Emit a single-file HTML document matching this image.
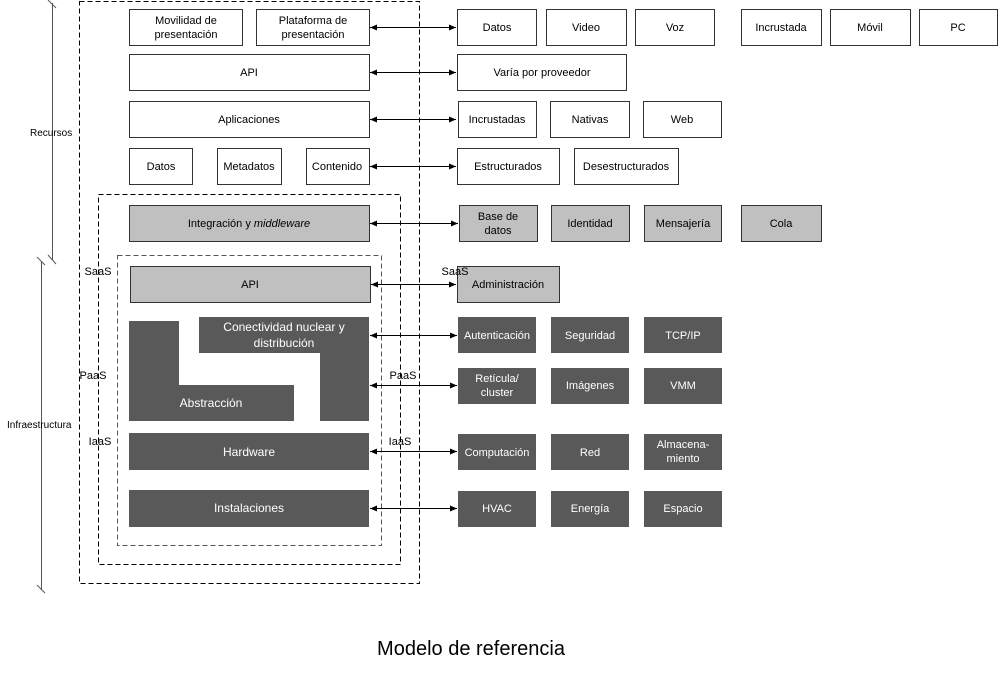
<!DOCTYPE html>
<html><head><meta charset="utf-8"><style>
html,body{margin:0;padding:0;background:#fff;}
svg{display:block;}
text{font-family:"Liberation Sans",Arial,sans-serif;font-size:11px;}
</style></head><body>
<svg width="998" height="698" viewBox="0 0 998 698" xmlns="http://www.w3.org/2000/svg">
<defs>
<marker id="a" markerWidth="8" markerHeight="8" refX="7" refY="4" orient="auto-start-reverse" markerUnits="userSpaceOnUse"><path d="M0,1 L7,4 L0,7 z" fill="#000"/></marker>
</defs>
<g fill="none" stroke="#000" stroke-width="1" stroke-dasharray="5,3">
<rect x="79.5" y="1.5" width="340" height="582"/>
<rect x="98.5" y="194.5" width="302" height="370"/>
<rect x="117.5" y="255.5" width="264" height="290" stroke="#555"/>
</g>
<!-- left brackets -->
<g stroke="#555" stroke-width="1" fill="none">
<line x1="52.5" y1="3" x2="52.5" y2="260"/>
<line x1="48" y1="0" x2="56" y2="8"/><line x1="48" y1="255" x2="56" y2="264"/>
<line x1="41.5" y1="262" x2="41.5" y2="590"/>
<line x1="37" y1="257" x2="45" y2="265"/><line x1="37" y1="585" x2="45" y2="593"/>
</g>
<text x="30" y="136" font-size="10" style="font-size:10px">Recursos</text>
<text x="7" y="428" style="font-size:10px">Infraestructura</text>
<g stroke="#333" stroke-width="1">
<!-- white boxes -->
<g fill="#fff">
<rect x="129.5" y="9.5" width="113" height="36"/><rect x="256.5" y="9.5" width="113" height="36"/>
<rect x="129.5" y="54.5" width="240" height="36"/>
<rect x="129.5" y="101.5" width="240" height="36"/>
<rect x="129.5" y="148.5" width="63" height="36"/><rect x="217.5" y="148.5" width="64" height="36"/><rect x="306.5" y="148.5" width="63" height="36"/>
<rect x="457.5" y="9.5" width="79" height="36"/><rect x="546.5" y="9.5" width="80" height="36"/><rect x="635.5" y="9.5" width="79" height="36"/>
<rect x="741.5" y="9.5" width="80" height="36"/><rect x="830.5" y="9.5" width="80" height="36"/><rect x="919.5" y="9.5" width="78" height="36"/>
<rect x="457.5" y="54.5" width="169" height="36"/>
<rect x="458.5" y="101.5" width="78" height="36"/><rect x="550.5" y="101.5" width="79" height="36"/><rect x="643.5" y="101.5" width="78" height="36"/>
<rect x="457.5" y="148.5" width="102" height="36"/><rect x="574.5" y="148.5" width="104" height="36"/>
</g>
<g fill="#c0c0c0">
<rect x="129.5" y="205.5" width="240" height="36"/>
<rect x="130.5" y="266.5" width="240" height="36"/>
<rect x="459.5" y="205.5" width="78" height="36"/><rect x="551.5" y="205.5" width="78" height="36"/><rect x="644.5" y="205.5" width="77" height="36"/><rect x="741.5" y="205.5" width="80" height="36"/>
<rect x="457.5" y="266.5" width="102" height="36"/>
</g>
</g>
<g fill="#595959">
<path d="M199,317 H369 V421 H320 V353 H199 Z"/>
<path d="M129,321 H179 V385 H294 V421 H129 Z"/>
<rect x="129" y="433" width="240" height="37"/>
<rect x="129" y="490" width="240" height="37"/>
<rect x="458" y="317" width="78" height="36"/><rect x="551" y="317" width="78" height="36"/><rect x="644" y="317" width="78" height="36"/>
<rect x="458" y="368" width="78" height="36"/><rect x="551" y="368" width="78" height="36"/><rect x="644" y="368" width="78" height="36"/>
<rect x="458" y="434" width="78" height="36"/><rect x="551" y="434" width="78" height="36"/><rect x="644" y="434" width="78" height="36"/>
<rect x="458" y="491" width="78" height="36"/><rect x="551" y="491" width="78" height="36"/><rect x="644" y="491" width="78" height="36"/>
</g>
<!-- arrows -->
<g stroke="#000" stroke-width="1" marker-start="url(#a)" marker-end="url(#a)">
<line x1="370" y1="27.5" x2="456" y2="27.5"/>
<line x1="370" y1="72.5" x2="456" y2="72.5"/>
<line x1="370" y1="119.5" x2="456" y2="119.5"/>
<line x1="370" y1="166.5" x2="456" y2="166.5"/>
<line x1="370" y1="223.5" x2="458" y2="223.5"/>
<line x1="371" y1="284.5" x2="456" y2="284.5"/>
<line x1="370" y1="335.5" x2="457" y2="335.5"/>
<line x1="370" y1="385.5" x2="457" y2="385.5"/>
<line x1="370" y1="451.5" x2="457" y2="451.5"/>
<line x1="370" y1="508.5" x2="457" y2="508.5"/>
</g>
<g text-anchor="middle" fill="#000">
<text x="186" y="24">Movilidad de</text><text x="186" y="38">presentación</text>
<text x="313" y="24">Plataforma de</text><text x="313" y="38">presentación</text>
<text x="249" y="76">API</text>
<text x="249" y="123">Aplicaciones</text>
<text x="161" y="170">Datos</text><text x="249" y="170">Metadatos</text><text x="337" y="170">Contenido</text>
<text x="249" y="227">Integración y <tspan font-style="italic">middleware</tspan></text>
<text x="250" y="288">API</text>
<text x="497" y="31">Datos</text><text x="586" y="31">Video</text><text x="675" y="31">Voz</text>
<text x="781" y="31">Incrustada</text><text x="870" y="31">Móvil</text><text x="958" y="31">PC</text>
<text x="542" y="76">Varía por proveedor</text>
<text x="497" y="123">Incrustadas</text><text x="590" y="123">Nativas</text><text x="682" y="123">Web</text>
<text x="508" y="170">Estructurados</text><text x="626" y="170">Desestructurados</text>
<text x="498" y="220">Base de</text><text x="498" y="234">datos</text>
<text x="590" y="227">Identidad</text><text x="683" y="227">Mensajería</text><text x="781" y="227">Cola</text>
<text x="508" y="288">Administración</text>
<text x="455" y="275">SaaS</text><text x="98" y="275">SaaS</text>
<text x="403" y="379">PaaS</text><text x="93" y="379">PaaS</text>
<text x="400" y="445">IaaS</text><text x="100" y="445">IaaS</text>
</g>
<g text-anchor="middle" fill="#fff">
<text x="284" y="331" style="font-size:12px">Conectividad nuclear y</text><text x="284" y="347" style="font-size:12px">distribución</text>
<text x="211" y="407" style="font-size:12px">Abstracción</text>
<text x="249" y="456" style="font-size:12px">Hardware</text>
<text x="249" y="512" style="font-size:12px">Instalaciones</text>
<text x="497" y="339">Autenticación</text><text x="590" y="339">Seguridad</text><text x="683" y="339">TCP/IP</text>
<text x="497" y="382">Retícula/</text><text x="497" y="396">cluster</text>
<text x="590" y="389">Imágenes</text><text x="683" y="389">VMM</text>
<text x="497" y="456">Computación</text><text x="590" y="456">Red</text>
<text x="683" y="448">Almacena-</text><text x="683" y="462">miento</text>
<text x="497" y="512">HVAC</text><text x="590" y="512">Energía</text><text x="683" y="512">Espacio</text>
</g>
<text x="471" y="655" text-anchor="middle" style="font-size:20px">Modelo de referencia</text>
</svg>
</body></html>
